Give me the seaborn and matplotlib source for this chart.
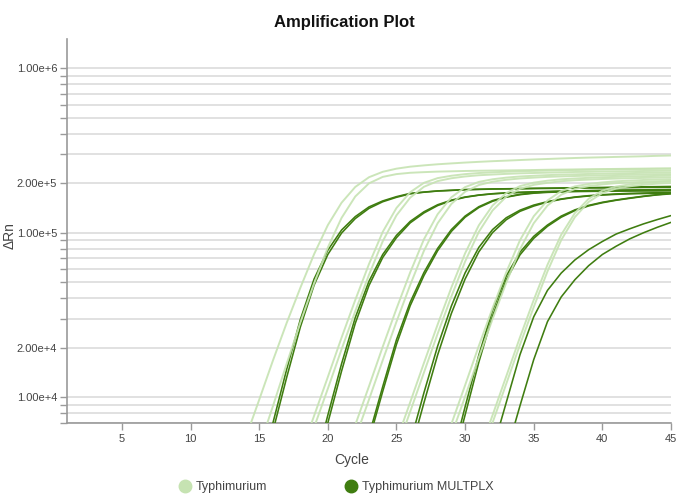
import matplotlib
matplotlib.use("Agg")
import matplotlib.pyplot as plt
import pandas as pd
import seaborn as sns
from matplotlib.ticker import FixedLocator, FuncFormatter, NullFormatter, LogLocator
from matplotlib.lines import Line2D

# ---------------- data (ΔRn per cycle) ----------------
ASSAY_LIGHT = "Typhimurium"
ASSAY_DARK = "Typhimurium MULTPLX"

# first cycle of each well's list (values continue cycle by cycle up to 45)
typh_starts = [14, 15, 18, 19, 22, 22, 25, 25, 28, 29, 31, 31]
multplx_starts = [15, 16, 19, 19, 23, 23, 26, 26, 29, 29, 32, 33]

typh_1a = [5640, 9680, 16750, 28310, 46340, 74130, 111200, 152100, 189700, 217300, 234400,
           244900, 251800, 256400, 260400, 263600, 266700, 269400, 271900, 274000, 276300,
           278500, 280400, 282400, 284300, 285900, 287200, 288600, 289900, 291200, 293000, 294400]
typh_1b = [4990, 8850, 16000, 28580, 49200, 81280, 123000, 166000, 199500, 218300, 227000,
           231200, 233300, 235000, 236000, 237100, 237900, 238500, 239000, 239600, 240300,
           241200, 241800, 242300, 242900, 243400, 244000, 244600, 245100, 245500, 245700]
typh_2a = [4510, 7740, 13300, 23070, 39080, 64570, 101200, 141300, 176200, 200900, 214600,
           221800, 226900, 230400, 232600, 234600, 236200, 237300, 238400, 239400, 240500,
           241100, 242200, 242700, 243300, 243800, 244400, 245000]
typh_2b = [6580, 11300, 19590, 33390, 55590, 88720, 127500, 163300, 190100, 205800, 214200,
           219600, 223400, 225600, 227700, 229400, 230500, 231600, 232700, 233800, 234300,
           235400, 236000, 236500, 237100, 237600, 238200]
typh_3a = [6810, 11700, 20320, 34560, 57410, 91200, 129600, 164100, 189200, 203500, 211100,
           216100, 219600, 221800, 223800, 225400, 226400, 227500, 228500, 229600, 230100,
           231200, 231700, 232300]
typh_3b = [5660, 9720, 16830, 28810, 48190, 77620, 114200, 149600, 177400, 194800, 204100,
           209700, 213600, 216100, 218300, 219800, 221000, 222000, 223000, 224100, 224800,
           225700, 226400, 226900]
typh_4a = [5450, 9350, 16180, 27730, 46450, 74990, 110900, 146200, 174200, 191900, 201400,
           207000, 211000, 213500, 215500, 217200, 218400, 219400, 220400, 221400, 222200]
typh_4b = [4780, 8200, 14160, 24380, 41020, 66830, 101200, 136500, 165600, 184900, 195400,
           200900, 205500, 208300, 210200, 212000, 213200, 214200, 215200, 216200, 217000]
typh_5a = [4013, 6895, 11860, 20560, 34830, 57540, 90160, 125900, 157000, 179100, 191200,
           197700, 202100, 205300, 207200, 209100, 210500, 211400]
typh_5b = [5890, 10120, 17540, 29890, 49770, 79430, 114200, 146200, 170200, 184300, 191800,
           196600, 200000, 202000, 203900, 205400, 206400]
typh_6a = [4540, 7800, 13460, 23210, 39080, 63830, 97160, 131800, 160700, 180100, 190700,
           196600, 200700, 203400, 205300]
typh_6b = [4090, 7030, 12110, 20940, 35400, 58210, 90160, 124500, 153800, 174200, 185400,
           191400, 195600, 198600, 200400]

mplx_1a = [3310, 7000, 14790, 29790, 52360, 78340, 103800, 125300, 143500, 156000, 165600,
           173400, 176600, 179500, 181100, 182800, 183700, 184500, 184900, 185400, 186200,
           186600, 187100, 187500, 187900, 188400, 189200, 189700, 190100, 190500, 191000]
mplx_1b = [6250, 13210, 26790, 48080, 73800, 99500, 121900, 140600, 154200, 164100, 172200,
           176200, 179100, 180700, 182400, 183200, 184100, 184500, 184900, 185400, 185800,
           186200, 186600, 187100, 187100, 187500, 187900, 188400, 188400, 188800]
mplx_2a = [3710, 7800, 16000, 30550, 50800, 73800, 96400, 117200, 134000, 147900, 157800,
           164800, 169400, 172600, 174600, 175800, 177000, 177800, 178600, 179500, 179900,
           180300, 180700, 181100, 181600, 182000, 182400]
mplx_2b = [3310, 7000, 14450, 28180, 47860, 70790, 93330, 114800, 131800, 146200, 156700,
           164100, 169000, 172200, 174200, 175800, 177000, 177800, 178200, 178600, 179100,
           179500, 179900, 180300, 180300, 180700, 181100]
mplx_3a = [5890, 11640, 22390, 37840, 57280, 80350, 104500, 126200, 143900, 156700, 165200,
           171000, 174600, 177000, 178200, 179300, 180100, 180700, 181100, 181600, 182000,
           182400, 182800]
mplx_3b = [5500, 10890, 20990, 36060, 54950, 77800, 101900, 124200, 142200, 155200, 164400,
           170200, 173800, 175800, 177000, 177800, 178200, 178600, 179100, 179100, 179500,
           179500, 179900]
mplx_4a = [5310, 10670, 20510, 35890, 57020, 81470, 104500, 123300, 137100, 147200, 154500,
           160300, 164800, 167900, 170200, 172000, 173400, 174200, 175000, 175800]
mplx_4b = [4620, 9270, 18110, 32360, 52360, 76560, 100200, 120000, 134900, 145200, 153500,
           159600, 164100, 167100, 169400, 171000, 172200, 173000, 173400, 173800]
mplx_5a = [4140, 8770, 18070, 33810, 54700, 76210, 95060, 111400, 126200, 137700, 146600,
           153100, 158100, 162600, 166700, 170200, 173400]
mplx_5b = [3710, 7830, 16370, 31260, 51760, 73450, 92470, 109400, 124200, 136300, 145500,
           152100, 157400, 161800, 166100, 169800, 172200]
mplx_6a = [4790, 9330, 18200, 30900, 44670, 56890, 68390, 78890, 88510, 98170, 105700,
           113200, 120200, 127100]
mplx_6b = [4570, 8910, 16980, 28840, 40740, 51880, 63100, 73790, 82790, 91830, 100000,
           107900, 115600]

typh_wells = [typh_1a, typh_1b, typh_2a, typh_2b, typh_3a, typh_3b,
              typh_4a, typh_4b, typh_5a, typh_5b, typh_6a, typh_6b]
mplx_wells = [mplx_1a, mplx_1b, mplx_2a, mplx_2b, mplx_3a, mplx_3b,
              mplx_4a, mplx_4b, mplx_5a, mplx_5b, mplx_6a, mplx_6b]

y_tick_values = [1e4, 2e4, 1e5, 2e5, 1e6]
x_tick_values = [5, 10, 15, 20, 25, 30, 35, 40, 45]
x_grid_values = [10, 20, 30, 40]

COLOR_LIGHT = "#c6e3b2"
COLOR_DARK = "#3f7d10"


def build_frame(assay, starts, wells):
    rows = []
    for w, (start, vals) in enumerate(zip(starts, wells)):
        for i, v in enumerate(vals):
            rows.append((assay, f"{assay}-{w}", start + i, v))
    return pd.DataFrame(rows, columns=["assay", "well", "cycle", "drn"])


df_light = build_frame(ASSAY_LIGHT, typh_starts, typh_wells)
df_dark = build_frame(ASSAY_DARK, multplx_starts, mplx_wells)

# ---------------- plotting ----------------
sns.set_theme(style="white")
plt.rcParams["font.family"] = ["Liberation Sans", "DejaVu Sans"]

fig = plt.figure(figsize=(6.78, 4.96), dpi=100)
W, H = 678, 496
ax = fig.add_axes([67 / W, 1 - 423 / H, (671 - 67) / W, (423 - 39) / H])

sns.lineplot(data=df_dark, x="cycle", y="drn", units="well", estimator=None,
             color=COLOR_DARK, lw=1.15, ax=ax, legend=False, zorder=3)
sns.lineplot(data=df_light, x="cycle", y="drn", units="well", estimator=None,
             color=COLOR_LIGHT, lw=1.4, alpha=0.9, ax=ax, legend=False, zorder=4)

ax.set_yscale("log")
ax.set_ylim(7000, 1.5e6)
ax.set_xlim(1, 45)


def sci(v, pos=None):
    exp = int(f"{v:e}".split("e")[1])
    mant = v / 10 ** exp
    return f"{mant:.2f}e+{exp}"


ax.yaxis.set_major_locator(FixedLocator(y_tick_values))
ax.yaxis.set_major_formatter(FuncFormatter(sci))
ax.yaxis.set_minor_locator(LogLocator(base=10, subs=range(1, 10), numticks=50))
ax.yaxis.set_minor_formatter(NullFormatter())

ax.xaxis.set_major_locator(FixedLocator(x_tick_values))
ax.xaxis.set_minor_locator(FixedLocator(x_grid_values))

grid_kw = dict(color="#dcdcdc", linewidth=1.2)
ax.grid(False)
ax.yaxis.grid(True, which="both", **grid_kw)
ax.xaxis.grid(True, which="minor", **grid_kw)
ax.xaxis.grid(False, which="major")
ax.set_axisbelow(True)

for side in ["top", "right"]:
    ax.spines[side].set_visible(False)
for side in ["left", "bottom"]:
    ax.spines[side].set_color("#9a9a9a")
    ax.spines[side].set_linewidth(1.2)

ax.tick_params(axis="y", which="both", direction="out", length=5, width=1,
               color="#9a9a9a", labelsize=8, labelcolor="#444444", pad=2, left=True)
ax.tick_params(axis="x", which="major", direction="out", length=5, width=1,
               color="#9a9a9a", labelsize=8, labelcolor="#444444", pad=3, bottom=True)
ax.tick_params(axis="x", which="minor", length=0)

ax.set_xlabel("")
ax.set_ylabel("")

fig.text(344 / W, 1 - 22 / H, "Amplification Plot", ha="center", va="center",
         fontsize=12, fontweight="bold", color="#111111")
fig.text(352 / W, 1 - 460 / H, "Cycle", ha="center", va="center",
         fontsize=10, color="#444444")
fig.text(10 / W, 1 - 236 / H, "ΔRn", ha="center", va="center", rotation=90,
         fontsize=10, color="#444444")

handles = [
    Line2D([], [], ls="", marker="o", markersize=9, color=COLOR_LIGHT, label=ASSAY_LIGHT),
    Line2D([], [], ls="", marker="o", markersize=9, color=COLOR_DARK, label=ASSAY_DARK),
]
leg = fig.legend(handles=handles, loc="center", bbox_to_anchor=(336 / W, 1 - 487 / H),
                 ncol=2, frameon=False, fontsize=9, handletextpad=0.4,
                 columnspacing=6.2, handlelength=1.0)
for t in leg.get_texts():
    t.set_color("#444444")

fig.savefig("out.png", dpi=100)
